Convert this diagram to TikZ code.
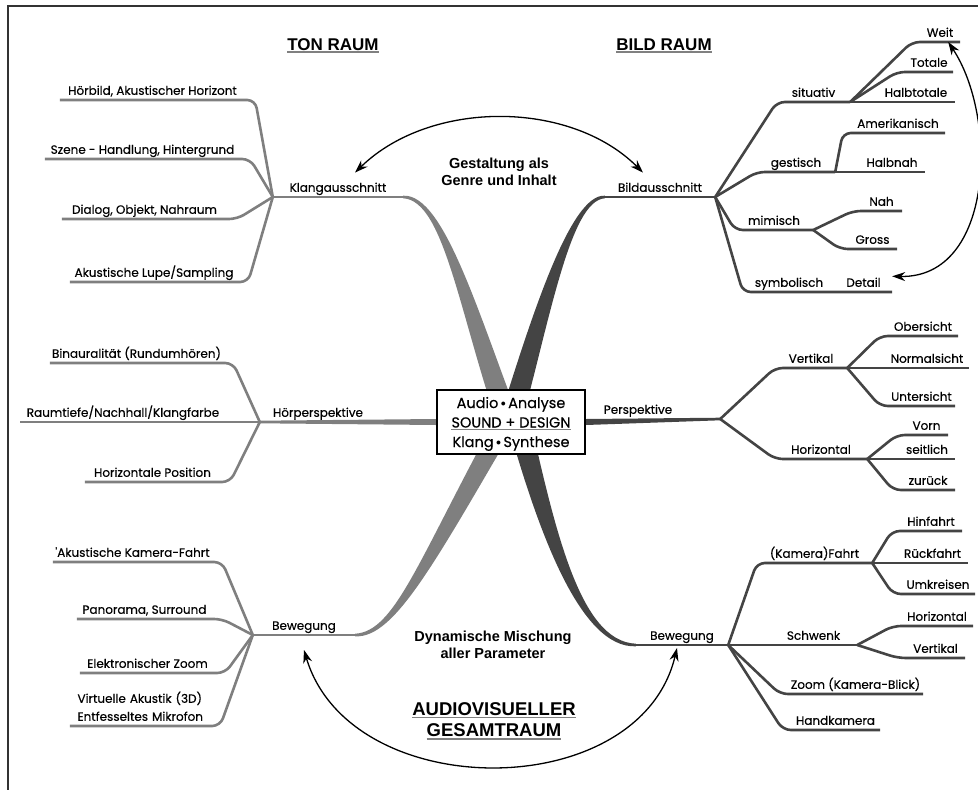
\documentclass[tikz,border=0pt]{standalone}
\usepackage{fontspec}
\usepackage{tikz}
\usetikzlibrary{
  arrows.meta,
  calc,
  backgrounds
}
\newfontfamily\lblfont{Poppins}[FakeBold=0.4]
\newfontfamily\headfont{Liberation Sans}
\definecolor{lgray}{HTML}{7F7F7F}
\definecolor{dgray}{HTML}{444444}
\newcommand{\ulbar}[1]{\vtop{\hbox{#1}\kern1.2pt{\color{gray}\hrule height 1.6pt}}}
\newcommand{\dotsep}{\,\raisebox{0.12em}{$\scriptstyle\bullet$}\,}
\tikzset{
  leaf/.style={
    font=\lblfont\fontsize{12}{14}\selectfont, anchor=south,
    inner xsep=0pt, inner ysep=5pt, text height=9pt, text depth=0pt,
    minimum width=#1
  },
  leafL/.style={leaf=#1, execute at end node={\hspace*{10pt}}},
  leafR/.style={leaf=#1, execute at begin node={\hspace*{8pt}}},
  lline/.style={draw=lgray, line width=2.6pt, rounded corners=8pt},
  rline/.style={draw=dgray, line width=2.6pt, rounded corners=8pt},
  lband/.style={fill=lgray},
  rband/.style={fill=dgray},
  centerbox/.style={
    rectangle, draw, line width=2.2pt, fill=white,
    minimum width=148pt, minimum height=64pt, inner sep=0pt,
    text height=52pt, text depth=2pt,
    align=center, font=\lblfont\fontsize{14.5}{19.5}\selectfont
  },
  heading/.style={font=\headfont\bfseries\fontsize{17}{20}\selectfont, inner sep=0pt, anchor=base},
  remark/.style={font=\headfont\bfseries\fontsize{14.5}{17}\selectfont, align=center, inner sep=0pt},
  biarrow/.style={<->, >={Stealth[length=13pt,width=9pt]}, line width=1.3pt},
  frame/.style={draw=black!80, line width=1.2pt}
}

\begin{document}
\begin{tikzpicture}[x=1pt, y=-1pt]
\useasboundingbox (0,0) rectangle (978,790);
\draw[frame] (8,790) -- (8,6) -- (978,6);

% Centre
\node[centerbox] (box) at (511,422)
  {Audio\dotsep Analyse\\\ulbar{SOUND + DESIGN}\\Klang\dotsep Synthese};

% Headings
\node[heading] (tonraum) at (333,50) {\ulbar{TON RAUM}};
\node[heading] (bildraum) at (664,50) {\ulbar{BILD RAUM}};
\node[remark] (gestaltung) at (499,172) {Gestaltung als\\Genre und Inhalt};
\node[remark] (mischung) at (493,645) {Dynamische Mischung\\aller Parameter};
\node[remark, font=\headfont\bfseries\fontsize{18.5}{21.7}\selectfont] (gesamt) at (494,721)
  {\ulbar{AUDIOVISUELLER}\\\ulbar{GESAMTRAUM}};

% Klangausschnitt
\node[leaf=130] (klang) at (338,197) {Klangausschnitt};
\node[leafL=195] (hoerbild) at (157.5,100) {Hörbild, Akustischer Horizont};
\node[leafL=205] (szene) at (147.5,159) {Szene - Handlung, Hintergrund};
\node[leafL=175] (dialog) at (149.5,219) {Dialog, Objekt, Nahraum};
\node[leafL=178] (lupe) at (159,282) {Akustische Lupe/Sampling};
\draw[lline] (klang.south west) -- (klang.south east);
\draw[lline] (klang.south west) -- (hoerbild.south east) -- (hoerbild.south west);
\draw[lline] (klang.south west) -- (szene.south east) -- (szene.south west);
\draw[lline] (klang.south west) -- (dialog.south east) -- (dialog.south west);
\draw[lline] (klang.south west) -- (lupe.south east) -- (lupe.south west);

% Hoerperspektive
\node[leaf=116] (hoer) at (318,422) {Hörperspektive};
\node[leafL=183] (binaural) at (141.5,363) {Binauralität (Rundumhören)};
\node[leafL=216] (raumtiefe) at (128,422) {Raumtiefe/Nachhall/Klangfarbe};
\node[leafL=145] (hpos) at (157.5,482) {Horizontale Position};
\draw[lline] (hoer.south west) -- (binaural.south east) -- (binaural.south west);
\draw[lline] (hoer.south west) -- (raumtiefe.south east) -- (raumtiefe.south west);
\draw[lline] (hoer.south west) -- (hpos.south east) -- (hpos.south west);

% Bewegung (Ton)
\node[leaf=102] (bewL) at (304,635) {Bewegung};
\node[leafL=169] (kamfahrt) at (137.5,562) {'Akustische Kamera-Fahrt};
\node[leafL=145] (panorama) at (149.5,619) {Panorama, Surround};
\node[leafL=145] (ezoom) at (152.5,673) {Elektronischer Zoom};
\node[leaf=150, text width=135pt, align=left, text depth=18pt,
  font=\lblfont\fontsize{12}{18}\selectfont] (virtuell) at (145,726)
  {Virtuelle Akustik (3D)\\Entfesseltes Mikrofon};
\draw[lline] (bewL.south west) -- (bewL.south east);
\draw[lline] (bewL.south west) -- (kamfahrt.south east) -- (kamfahrt.south west);
\draw[lline] (bewL.south west) -- (panorama.south east) -- (panorama.south west);
\draw[lline] (bewL.south west) -- (ezoom.south east) -- (ezoom.south west);
\draw[lline] (bewL.south west) -- (virtuell.south east) -- (virtuell.south west);

% Bildausschnitt
\node[leaf=110] (bild) at (660,197) {Bildausschnitt};
\node[leaf=73] (situativ) at (813.5,102) {situativ};
\node[leafR=48] (weit) at (936,42) {Weit};
\node[leafR=56] (totale) at (925,72) {Totale};
\node[leafR=86] (halbtotale) at (912,102) {Halbtotale};
\node[leaf=78] (gestisch) at (796,172) {gestisch};
\node[leafR=102] (amerik) at (894,133) {Amerikanisch};
\node[leafR=74] (halbnah) at (888,172) {Halbnah};
\node[leaf=78] (mimisch) at (774,230) {mimisch};
\node[leafR=49] (nah) at (877.5,211) {Nah};
\node[leafR=57] (gross) at (868.5,249) {Gross};
\node[leaf=92] (symbolisch) at (789,292) {symbolisch};
\node[leaf=57] (detail) at (863.5,292) {Detail};
\draw[rline] (bild.south west) -- (bild.south east);
\draw[rline] (bild.south east) -- (situativ.south west) -- (situativ.south east);
\draw[rline] (situativ.south east) -- (weit.south west) -- (weit.south east);
\draw[rline] (situativ.south east) -- (totale.south west) -- (totale.south east);
\draw[rline] (situativ.south east) -- (halbtotale.south west) -- (halbtotale.south east);
\draw[rline] (bild.south east) -- (gestisch.south west) -- (gestisch.south east);
\draw[rline] (gestisch.south east) -- (amerik.south west) -- (amerik.south east);
\draw[rline] (gestisch.south east) -- (halbnah.south west) -- (halbnah.south east);
\draw[rline] (bild.south east) -- (mimisch.south west) -- (mimisch.south east);
\draw[rline] (mimisch.south east) -- (nah.south west) -- (nah.south east);
\draw[rline] (mimisch.south east) -- (gross.south west) -- (gross.south east);
\draw[rline] (bild.south east) -- (symbolisch.south west) -- (detail.south east);

% Perspektive
\node[leaf=164] (persp) at (638,419) {Perspektive};
\node[leaf=72] (vertikal) at (811,368) {Vertikal};
\node[leafR=78] (ober) at (919,336) {Obersicht};
\node[leafR=92] (normal) at (923,368) {Normalsicht};
\node[leafR=75] (unter) at (917.5,406) {Untersicht};
\node[leaf=92] (horizontal) at (821,459) {Horizontal};
\node[leafR=51] (vorn) at (922.5,435) {Vorn};
\node[leafR=64] (seitlich) at (923,459) {seitlich};
\node[leafR=62] (zurueck) at (924,490) {zurück};
\draw[rline] (persp.south east) -- (vertikal.south west) -- (vertikal.south east);
\draw[rline] (vertikal.south east) -- (ober.south west) -- (ober.south east);
\draw[rline] (vertikal.south east) -- (normal.south west) -- (normal.south east);
\draw[rline] (vertikal.south east) -- (unter.south west) -- (unter.south east);
\draw[rline] (persp.south east) -- (horizontal.south west) -- (horizontal.south east);
\draw[rline] (horizontal.south east) -- (vorn.south west) -- (vorn.south east);
\draw[rline] (horizontal.south east) -- (seitlich.south west) -- (seitlich.south east);
\draw[rline] (horizontal.south east) -- (zurueck.south west) -- (zurueck.south east);

% Bewegung (Bild)
\node[leaf=92] (bewR) at (682,645) {Bewegung};
\node[leaf=115] (fahrt) at (814.5,563) {(Kamera)Fahrt};
\node[leafR=70] (hinfahrt) at (927,531) {Hinfahrt};
\node[leafR=79] (rueckfahrt) at (928.5,563) {Rückfahrt};
\node[leafR=82] (umkreisen) at (934,594) {Umkreisen};
\node[leaf=87] (schwenk) at (813.5,645) {Schwenk};
\node[leafR=80] (shoriz) at (933,626) {Horizontal};
\node[leafR=67] (svert) at (931.5,658) {Vertikal};
\node[leafR=143] (kzoom) at (851.5,694) {Zoom (Kamera-Blick)};
\node[leafR=97] (handkamera) at (831.5,730) {Handkamera};
\draw[rline] (bewR.south west) -- (bewR.south east);
\draw[rline] (bewR.south east) -- (fahrt.south west) -- (fahrt.south east);
\draw[rline] (fahrt.south east) -- (hinfahrt.south west) -- (hinfahrt.south east);
\draw[rline] (fahrt.south east) -- (rueckfahrt.south west) -- (rueckfahrt.south east);
\draw[rline] (fahrt.south east) -- (umkreisen.south west) -- (umkreisen.south east);
\draw[rline] (bewR.south east) -- (schwenk.south west) -- (schwenk.south east);
\draw[rline] (schwenk.south east) -- (shoriz.south west) -- (shoriz.south east);
\draw[rline] (schwenk.south east) -- (svert.south west) -- (svert.south east);
\draw[rline] (bewR.south east) -- (kzoom.south west) -- (kzoom.south east);
\draw[rline] (bewR.south east) -- (handkamera.south west) -- (handkamera.south east);

% Main branches behind the centre box
\begin{scope}[on background layer]
\fill[lband] ($(box.center)+(16,18)$) .. controls +(-47,-120) and +(42,-2.2) .. ($(klang.south east)+(0,-1.3)$)
  -- ($(klang.south east)+(0,1.3)$) .. controls +(42,2.2) and +(-43,-120) .. ($(box.center)+(-8,18)$) -- cycle;
\fill[rband] ($(box.center)+(-18,18)$) .. controls +(37,-120) and +(-35,-2.2) .. ($(bild.south west)+(0,-1.3)$)
  -- ($(bild.south west)+(0,1.3)$) .. controls +(-35,2.2) and +(33,-120) .. ($(box.center)+(6,18)$) -- cycle;
\fill[lband] ($(box.center)+(-11,-12)$) .. controls +(-82,150) and +(40,-2.2) .. ($(bewL.south east)+(0,-1.3)$)
  -- ($(bewL.south east)+(0,1.3)$) .. controls +(40,2.2) and +(-88,150) .. ($(box.center)+(13,-12)$) -- cycle;
\fill[rband] ($(box.center)+(17,-12)$) .. controls +(27,120) and +(-56,-2.2) .. ($(bewR.south west)+(0,-1.3)$)
  -- ($(bewR.south west)+(0,1.3)$) .. controls +(-56,2.2) and +(33,120) .. ($(box.center)+(-7,-12)$) -- cycle;
\fill[lband] ($(hoer.south west)+(0,-1.3)$) -- ($(box.west)+(0,-3)$) -- ($(box.west)+(0,3)$)
  -- ($(hoer.south west)+(0,1.3)$) -- cycle;
\fill[rband] ($(box.east)+(0,-3)$) -- ($(persp.south east)+(0,-1.3)$) -- ($(persp.south east)+(0,1.3)$)
  -- ($(box.east)+(0,3)$) -- cycle;
\end{scope}

% Arrows
\draw[biarrow] ([xshift=17pt,yshift=5pt]klang.north) .. controls +(75,-73) and +(-73,-73)
  .. ([xshift=-17pt,yshift=5pt]bild.north);
\draw[biarrow] ([yshift=-15pt]bewL.south) .. controls +(46,155) and +(-37,157)
  .. ([xshift=-5pt,yshift=-3pt]bewR.south);
\draw[biarrow] ([xshift=-12pt]weit.south east) .. controls +(50,75) and +(102,2)
  .. ([yshift=6pt]detail.east);

\end{tikzpicture}
\end{document}
